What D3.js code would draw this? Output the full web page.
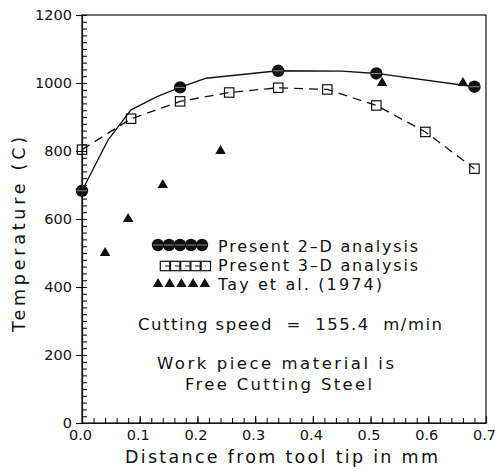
<!DOCTYPE html>
<html>
<head>
<meta charset="utf-8">
<script src="https://cdn.jsdelivr.net/npm/d3@7"></script>
<style>
  body { margin: 0; background: #fff; }
  svg text { font-family: "DejaVu Sans", sans-serif; fill: #111; white-space: pre; }
</style>
</head>
<body>
<svg width="495" height="471"></svg>
<script>
// 2-D analysis curve (solid) and its marked nodes
var curve2dX = [0.0, 0.045, 0.085, 0.13, 0.17, 0.215, 0.34, 0.45, 0.51, 0.68];
var curve2dY = [683, 832, 921, 960, 987, 1014, 1036, 1035, 1028, 989];
var nodes2dX = [0.0, 0.17, 0.34, 0.51, 0.68];
var nodes2dY = [683, 987, 1036, 1028, 989];

// 3-D analysis (dashed, open squares)
var res3dX = [0.0, 0.085, 0.17, 0.255, 0.34, 0.425, 0.51, 0.595, 0.68];
var res3dY = [804, 895, 946, 972, 986, 981, 934, 856, 748];

// Tay et al. (1974)
var tayX = [0.04, 0.08, 0.14, 0.24, 0.52, 0.66];
var tayY = [500, 600, 700, 800, 1000, 1000];

var xTicks = [0, 0.1, 0.2, 0.3, 0.4, 0.5, 0.6, 0.7];
var yTicks = [0, 200, 400, 600, 800, 1000, 1200];

var legendLabels = ["Present 2–D analysis", "Present 3–D analysis", "Tay et al. (1974)"];

var plot = { left: 82, right: 486, top: 15, bottom: 423 };

var svg = d3.select("svg");

var x = d3.scaleLinear().domain([0, 0.7]).range([plot.left, plot.right]);
var y = d3.scaleLinear().domain([0, 1200]).range([plot.bottom, plot.top]);

// minor ticks, pointing inwards
svg.append("g")
  .attr("transform", "translate(" + plot.left + ",0)")
  .call(d3.axisLeft(y).tickValues(d3.range(0, 1201, 20)).tickSize(-5).tickFormat(""))
  .call(g => g.select(".domain").remove());
svg.append("g")
  .attr("transform", "translate(0," + plot.bottom + ")")
  .call(d3.axisBottom(x).tickValues(d3.range(0, 0.701, 0.02)).tickSize(-5).tickFormat(""))
  .call(g => g.select(".domain").remove());

// major ticks with labels
var yAxis = svg.append("g")
  .attr("transform", "translate(" + plot.left + ",0)")
  .call(d3.axisLeft(y).tickValues(yTicks).tickSize(6).tickSizeOuter(0).tickPadding(4).tickFormat(d3.format("d")));
var xAxis = svg.append("g")
  .attr("transform", "translate(0," + plot.bottom + ")")
  .call(d3.axisBottom(x).tickValues(xTicks).tickSize(-7).tickSizeOuter(0).tickPadding(7).tickFormat(d3.format(".1f")));

[xAxis, yAxis].forEach(function(g) {
  g.selectAll("text").style("font-size", "14.5px").style("font-family", "DejaVu Sans, sans-serif").attr("fill", "#111");
  g.selectAll("line, path").attr("stroke", "#111").attr("stroke-width", 1.2);
});
xAxis.selectAll("text").attr("dx", -2);
yAxis.selectAll("text").attr("dy", "0.3em");
svg.selectAll("g line").attr("stroke", "#111").attr("stroke-width", 1.1);

// frame
svg.append("rect")
  .attr("x", plot.left).attr("y", plot.top)
  .attr("width", plot.right - plot.left).attr("height", plot.bottom - plot.top)
  .attr("fill", "none").attr("stroke", "#111").attr("stroke-width", 1.2);

// axis titles
svg.append("text")
  .attr("x", 125).attr("y", 463)
  .attr("textLength", 313).attr("lengthAdjust", "spacing")
  .style("font-size", "17.5px")
  .text("Distance from tool tip in mm");

svg.append("text")
  .attr("transform", "translate(25,332) rotate(-90)")
  .attr("textLength", 195).attr("lengthAdjust", "spacing")
  .style("font-size", "17.5px")
  .text("Temperature (C)");

// lines
var line = d3.line().x(d => x(d[0])).y(d => y(d[1]));

svg.append("path")
  .datum(d3.zip(curve2dX, curve2dY))
  .attr("d", line)
  .attr("fill", "none").attr("stroke", "#111").attr("stroke-width", 1.3);

svg.append("path")
  .datum(d3.zip(res3dX, res3dY))
  .attr("d", line)
  .attr("fill", "none").attr("stroke", "#111").attr("stroke-width", 1.3)
  .attr("stroke-dasharray", "9,6");

// markers
function drawCircle(g, cx, cy) {
  g.append("circle").attr("cx", cx).attr("cy", cy).attr("r", 6.2).attr("fill", "#111");
  g.append("line").attr("x1", cx - 5).attr("x2", cx + 5).attr("y1", cy).attr("y2", cy)
    .attr("stroke", "#888").attr("stroke-width", 1);
}
function drawSquare(g, cx, cy) {
  g.append("rect").attr("x", cx - 4.7).attr("y", cy - 4.7).attr("width", 9.4).attr("height", 9.4)
    .attr("fill", "none").attr("stroke", "#111").attr("stroke-width", 1.2);
}
var tri = d3.symbol().type(d3.symbolTriangle).size(48);
function drawTriangle(g, cx, cy) {
  g.append("path").attr("d", tri).attr("transform", "translate(" + cx + "," + cy + ")").attr("fill", "#111");
}

var marks = svg.append("g");
nodes2dX.forEach((d, i) => drawCircle(marks, x(d), y(nodes2dY[i])));
res3dX.forEach((d, i) => drawSquare(marks, x(d), y(res3dY[i])));
tayX.forEach((d, i) => drawTriangle(marks, x(d), y(tayY[i])));

// legend
var legend = svg.append("g");
var rows = [
  { yc: 245, x0: 158, step: 11, draw: drawCircle, dash: null },
  { yc: 266, x0: 165, step: 10.2, draw: drawSquare, dash: "6,4" },
  { yc: 284, x0: 158, step: 11.7, draw: drawTriangle, dash: "none" }
];
rows.forEach(function(r, i) {
  if (r.dash !== "none") {
    legend.append("line")
      .attr("x1", r.x0).attr("x2", r.x0 + 4 * r.step)
      .attr("y1", r.yc).attr("y2", r.yc)
      .attr("stroke", "#111").attr("stroke-width", 1.2)
      .attr("stroke-dasharray", r.dash);
  }
  for (var k = 0; k < 5; k++) r.draw(legend, r.x0 + k * r.step, r.yc);
});

var legendWidths = [200, 200, 164];
legend.selectAll("text.lab")
  .data(legendLabels)
  .join("text")
  .attr("class", "lab")
  .attr("x", 218)
  .attr("y", (d, i) => [252, 271, 290][i])
  .attr("textLength", (d, i) => legendWidths[i]).attr("lengthAdjust", "spacing")
  .style("font-size", "16px")
  .text(d => d);

// notes
var notes = [
  { t: "Cutting speed  =  155.4  m/min", x: 138, y: 330, w: 304 },
  { t: "Work piece material is", x: 157, y: 369, w: 237 },
  { t: "Free Cutting Steel", x: 185, y: 390, w: 187 }
];
svg.selectAll("text.note")
  .data(notes)
  .join("text")
  .attr("class", "note")
  .attr("x", d => d.x).attr("y", d => d.y)
  .attr("textLength", d => d.w).attr("lengthAdjust", "spacing")
  .style("font-size", "16.5px")
  .text(d => d.t);
</script>
</body>
</html>
